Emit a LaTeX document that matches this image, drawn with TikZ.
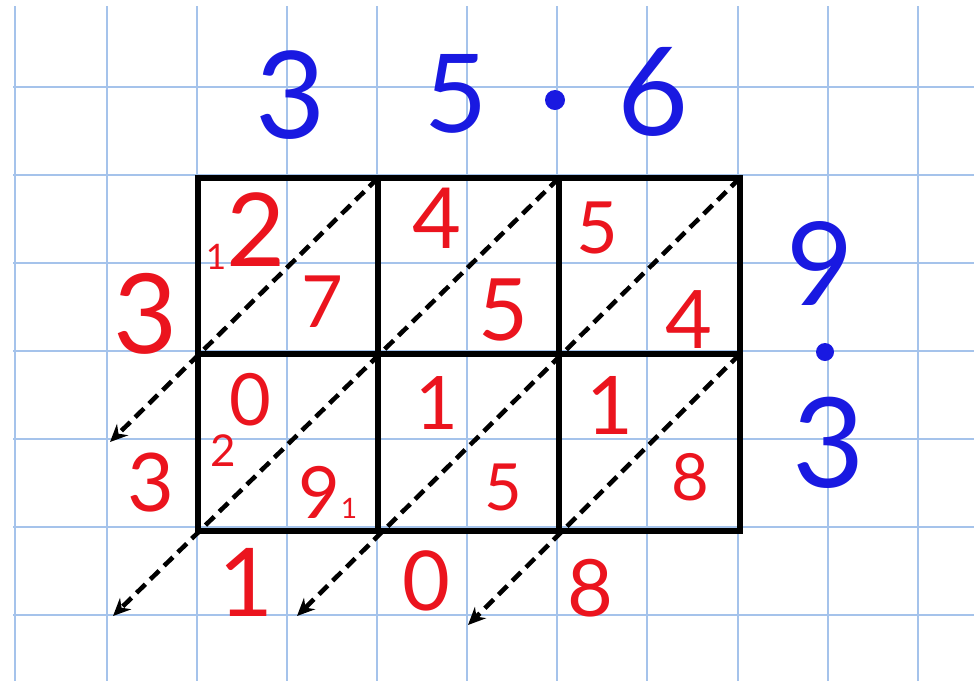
\documentclass[tikz,border=0pt]{standalone}
\usepackage{fontspec}
\setmainfont{Lato}
\usetikzlibrary{arrows.meta}
\definecolor{gridblue}{RGB}{165,195,235}
\definecolor{inkred}{RGB}{235,20,30}
\definecolor{inkblue}{RGB}{25,25,225}
\begin{document}
\begin{tikzpicture}[x=0.02cm,y=-0.02cm,
  gridline/.style={gridblue,line width=0.9pt},
  boxline/.style={black,line width=3.2pt},
  diag/.style={black,line width=2.6pt,dash pattern=on 7pt off 4pt,-{Stealth[length=10pt,width=9pt]}},
  rd/.style={text=inkred,inner sep=0pt,font=\fontsize{#1}{#1}\selectfont},
  bd/.style={text=inkblue,inner sep=0pt,font=\fontsize{#1}{#1}\selectfont}]
\useasboundingbox (0,0) rectangle (974,681);
\fill[white] (0,0) rectangle (974,681);
% graph paper
\foreach \x in {15,107,197,287,377,467,557,647,738,828,918} \draw[gridline] (\x,6) -- (\x,681);
\foreach \y in {87,175,263,351,439,527,615} \draw[gridline] (13,\y) -- (974,\y);
% lattice corners
\coordinate (A0) at (198,178); \coordinate (A1) at (378,178); \coordinate (A2) at (559,178); \coordinate (A3) at (740,178);
\coordinate (B0) at (198,354); \coordinate (B1) at (378,354); \coordinate (B2) at (559,354); \coordinate (B3) at (740,354);
\coordinate (C0) at (198,531); \coordinate (C1) at (378,531); \coordinate (C2) at (559,531); \coordinate (C3) at (740,531);
\coordinate (E1) at (110,442); \coordinate (E2) at (113,616); \coordinate (E3) at (297,616); \coordinate (E4) at (468,625);
% box
\draw[boxline] (A0) rectangle (C3);
\draw[boxline] (A1) -- (C1);
\draw[boxline] (A2) -- (C2);
\draw[boxline] (B0) -- (B3);
% diagonals
\draw[diag] (A1) -- (E1);
\draw[diag] (A2) -- (E2);
\draw[diag] (A3) -- (E3);
\draw[diag] (B3) -- (E4);
% blue factors
\node[bd=69] (t3) at (291,95) {3};
\node[bd=62] (t5) at (456,94) {5};
\fill[inkblue] (555,100) circle (10) coordinate (tdot);
\node[bd=70] (t6) at (653,92) {6};
\node[bd=66] (r9) at (820,263) {9};
\fill[inkblue] (825,352) circle (9) coordinate (rdot);
\node[bd=71] (r3) at (829,443) {3};
% red digits
\node[rd=20] (c11a) at (216,257) {1};
\node[rd=58] (c11b) at (256,230) {2};
\node[rd=41] (c11c) at (322,302) {7};
\node[rd=48] (c12a) at (437,218) {4};
\node[rd=49] (c12b) at (503,310) {5};
\node[rd=41] (c13a) at (597,228) {5};
\node[rd=46] (c13b) at (689,320) {4};
\node[rd=63] (l1) at (146,314) {3};
\node[rd=41] (c21a) at (250,400) {0};
\node[rd=25] (c21s) at (223,451) {2};
\node[rd=41] (c21b) at (319,492) {9};
\node[rd=16] (c21c) at (349,508) {1};
\node[rd=46] (l2) at (151,483) {3};
\node[rd=42] (c22a) at (437,403) {1};
\node[rd=37] (c22b) at (503,487) {5};
\node[rd=46] (c23a) at (610,405) {1};
\node[rd=37] (c23b) at (690,477) {8};
\node[rd=54] (b1) at (246,582) {1};
\node[rd=47] (b2) at (426,581) {0};
\node[rd=45] (b3) at (590,588) {8};
\end{tikzpicture}
\end{document}
